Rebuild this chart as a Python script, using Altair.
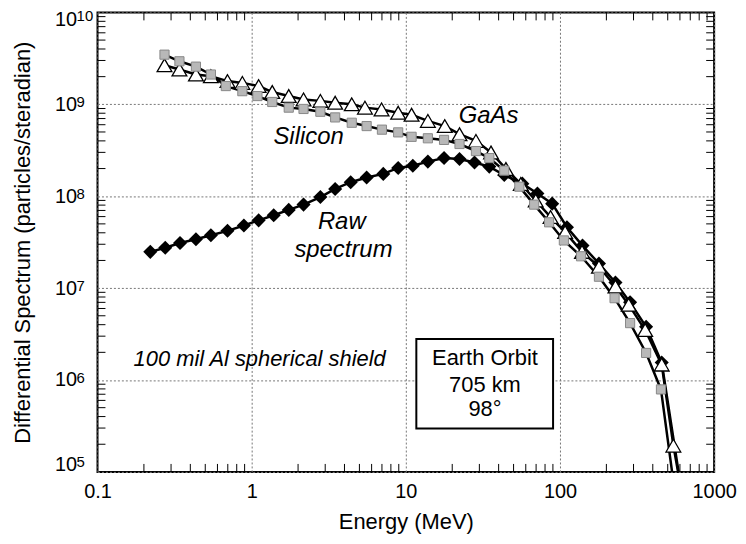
import altair as alt
import pandas as pd

# ---------------- data ----------------
energy_raw = [0.22, 0.275, 0.343, 0.435, 0.544, 0.697, 0.89, 1.11, 1.39, 1.74, 2.17, 2.79,
              3.48, 4.39, 5.57, 7.14, 8.92, 11.1, 13.9, 17.7, 22.3, 27.9, 34.8, 43.5, 57,
              71.4, 89, 111, 140, 179, 229, 285, 362, 457, 600]
flux_raw = [2.48e7, 2.75e7, 3.1e7, 3.4e7, 3.76e7, 4.2e7, 4.8e7, 5.46e7, 6.2e7, 7.1e7, 8.1e7, 9.8e7,
            1.2e8, 1.42e8, 1.6e8, 1.75e8, 2.03e8, 2.15e8, 2.38e8, 2.6e8, 2.54e8, 2.33e8, 2.1e8, 1.7e8, 1.37e8,
            1.07e8, 8.3e7, 4.6e7, 2.9e7, 1.85e7, 1.15e7, 7.0e6, 3.8e6, 1.55e6, 8e4]

energy_si = [0.272, 0.34, 0.435, 0.544, 0.68, 0.87, 1.09, 1.36, 1.74, 2.17, 2.79, 3.48, 4.46,
             5.57, 7.0, 8.92, 10.9, 13.9, 17.7, 22.3, 28.5, 34.8, 43.5, 54.5, 68, 85, 106, 137,
             179, 226, 285, 362, 452, 569]
flux_si = [3.47e9, 2.94e9, 2.57e9, 2.11e9, 1.58e9, 1.39e9, 1.23e9, 1.06e9, 9.2e8, 8.9e8, 8.3e8, 7.2e8, 6.3e8,
           5.8e8, 5.3e8, 4.95e8, 4.43e8, 4.27e8, 4.1e8, 3.7e8, 3.1e8, 2.6e8, 1.9e8, 1.27e8, 8.1e7, 5.2e7, 3.3e7, 2.22e7,
           1.33e7, 7.77e6, 4.16e6, 1.97e6, 7.9e5, 4.5e4]

energy_gaas = [0.272, 0.34, 0.435, 0.544, 0.697, 0.87, 1.11, 1.36, 1.74, 2.17, 2.79, 3.48, 4.46,
               5.43, 6.96, 8.92, 10.9, 13.9, 17.9, 22.3, 28.5, 35.7, 44.6, 55.7, 69.6, 86.9, 108,
               139, 179, 229, 279, 357, 457, 544, 606]
flux_gaas = [2.66e9, 2.39e9, 2.11e9, 2.02e9, 1.79e9, 1.71e9, 1.58e9, 1.36e9, 1.23e9, 1.13e9, 1.09e9, 1.04e9, 1.0e9,
             9.2e8, 8.8e8, 8.1e8, 7.7e8, 6.6e8, 5.8e8, 4.73e8, 4.0e8, 2.99e8, 1.98e8, 1.36e8, 8.98e7, 5.93e7, 4.07e7,
             2.48e7, 1.71e7, 1.04e7, 6.6e6, 3.5e6, 1.47e6, 1.93e5, 7e4]

x_major = [0.1, 1, 10, 100, 1000]
y_major = [1e5, 1e6, 1e7, 1e8, 1e9, 1e10]
y_exponents = ["5", "6", "7", "8", "9", "10"]
x_minor = [m * 10.0 ** d for d in range(-1, 3) for m in range(2, 10)]
y_minor = [m * 10.0 ** d for d in range(5, 10) for m in range(2, 10)]

curve_labels = ["Silicon", "GaAs", "Raw", "spectrum"]
curve_label_e = [2.34, 34.4, 3.84, 3.94]
curve_label_v = [4.35e8, 7.5e8, 5.2e7, 2.6e7]

shield_label = ["100 mil Al spherical shield"]
shield_label_e = [1.127]
shield_label_v = [1.71e6]

box_e = [11.7, 90.2]
box_v = [2.97e5, 2.79e6]
box_lines = ["Earth Orbit", "705 km", "98°"]
box_line_v = [1.74e6, 8.9e5, 4.8e5]
box_center_e = 32.6

# ---------------- chart ----------------
W, H = 620, 462
FONT = "Liberation Sans"
LBL_PAD = 21   # gap between "10" labels and the plot frame

x_scale = alt.Scale(type="log", domain=[0.1, 1000])
y_scale = alt.Scale(type="log", domain=[1e5, 1e10])

x_axis = alt.Axis(
    values=x_major,
    labelExpr="datum.value < 1 ? '0.1' : format(datum.value, 'd')",
    labelFlush=False, labelFontSize=20, labelPadding=10, labelColor="black",
    ticks=False, domain=False,
    grid=True, gridDash=[2, 2], gridColor="#777777", gridWidth=1,
    title="Energy (MeV)", titleFontSize=22, titleFontWeight="normal", titleColor="black",
    titleX=W / 2, titleY=50, titleBaseline="middle",
)
y_axis = alt.Axis(
    values=y_major,
    labelExpr="'10'",
    labelFlush=True, labelFlushOffset=3,
    labelFontSize=20, labelPadding=LBL_PAD, labelColor="black",
    ticks=False, domain=False,
    grid=True, gridDash=[2, 2], gridColor="#777777", gridWidth=1,
    title="Differential Spectrum (particles/steradian)", titleFontSize=22,
    titleFontWeight="normal", titleColor="black",
    titleX=-75, titleY=H / 2, titleBaseline="middle", titleAngle=-90,
)

raw_df = pd.DataFrame({"E": energy_raw, "V": flux_raw})
si_df = pd.DataFrame({"E": energy_si, "V": flux_si})
gaas_df = pd.DataFrame({"E": energy_gaas, "V": flux_gaas})
xm_df = pd.DataFrame({"E": x_minor})
ym_df = pd.DataFrame({"V": y_minor})
exp_df = pd.DataFrame({"V": y_major, "t": y_exponents})

X = alt.X("E:Q", scale=x_scale, axis=x_axis)
Y = alt.Y("V:Q", scale=y_scale, axis=y_axis)

tick_len = 8
ticks_bottom = alt.Chart(xm_df).mark_rule(color="black", strokeWidth=1).encode(
    x=X, y=alt.value(H), y2=alt.value(H - tick_len))
ticks_top = alt.Chart(xm_df).mark_rule(color="black", strokeWidth=1).encode(
    x=X, y=alt.value(0), y2=alt.value(tick_len))
ticks_left = alt.Chart(ym_df).mark_rule(color="black", strokeWidth=1).encode(
    y=Y, x=alt.value(0), x2=alt.value(tick_len))
ticks_right = alt.Chart(ym_df).mark_rule(color="black", strokeWidth=1).encode(
    y=Y, x=alt.value(W), x2=alt.value(W - tick_len))

# superscript exponents of the y tick labels
exp_base = alt.Chart(exp_df)
exp_mid = exp_base.transform_filter("datum.V > 2e5 && datum.V < 2e9").mark_text(
    font=FONT, fontSize=15, color="black", align="left", baseline="alphabetic", dy=3).encode(
    y=Y, x=alt.value(-LBL_PAD), text="t:N")
exp_top = exp_base.transform_filter("datum.V > 2e9").mark_text(
    font=FONT, fontSize=15, color="black", align="left", baseline="top", dy=-3).encode(
    y=Y, x=alt.value(-LBL_PAD), text="t:N")
exp_bot = exp_base.transform_filter("datum.V < 2e5").mark_text(
    font=FONT, fontSize=15, color="black", align="left", baseline="alphabetic", dy=-5).encode(
    y=Y, x=alt.value(-LBL_PAD), text="t:N")

box_df = pd.DataFrame({"E": [box_e[0]], "E2": [box_e[1]], "V": [box_v[0]], "V2": [box_v[1]]})
box = alt.Chart(box_df).mark_rect(fill="white", stroke="black", strokeWidth=2).encode(
    x=X, x2="E2:Q", y=Y, y2="V2:Q")
box_text = alt.Chart(pd.DataFrame({"E": [box_center_e] * 3, "V": box_line_v, "t": box_lines})).mark_text(
    font=FONT, fontSize=22, color="black", align="center", baseline="middle").encode(
    x=X, y=Y, text="t:N")

curve_text = alt.Chart(pd.DataFrame({"E": curve_label_e, "V": curve_label_v, "t": curve_labels})).mark_text(
    font=FONT, fontSize=24, fontStyle="italic", color="black", align="center", baseline="middle").encode(
    x=X, y=Y, text="t:N")
shield_text = alt.Chart(pd.DataFrame({"E": shield_label_e, "V": shield_label_v, "t": shield_label})).mark_text(
    font=FONT, fontSize=22, fontStyle="italic", color="black", align="center", baseline="middle").encode(
    x=X, y=Y, text="t:N")

raw_line = alt.Chart(raw_df).mark_line(color="black", strokeWidth=2.5, clip=True).encode(x=X, y=Y)
raw_pts = alt.Chart(raw_df).mark_point(shape="diamond", filled=True, color="black", size=200,
                                       opacity=1, clip=True).encode(x=X, y=Y)
si_line = alt.Chart(si_df).mark_line(color="black", strokeWidth=2.5, clip=True).encode(x=X, y=Y)
si_pts = alt.Chart(si_df).mark_point(shape="square", filled=True, fill="#b8b8b8", stroke="#888888",
                                     strokeWidth=1, size=85, opacity=1, clip=True).encode(x=X, y=Y)
gaas_line = alt.Chart(gaas_df).mark_line(color="black", strokeWidth=2.5, clip=True).encode(x=X, y=Y)
gaas_pts = alt.Chart(gaas_df).mark_point(shape="triangle-up", filled=True, fill="white", stroke="black",
                                         strokeWidth=1.3, size=220, opacity=1, clip=True).encode(x=X, y=Y)

chart = alt.layer(
    ticks_bottom, ticks_top, ticks_left, ticks_right,
    exp_mid, exp_top, exp_bot,
    box, box_text, shield_text, curve_text,
    raw_line, si_line, gaas_line, raw_pts, gaas_pts, si_pts,
).properties(
    width=W, height=H,
    autosize=alt.AutoSizeParams(type="none"),
    padding={"left": 90, "top": 3, "right": 24, "bottom": 62},
).configure(font=FONT).configure_view(stroke="black", strokeWidth=2)

chart.save("out.html", embed_options={"renderer": "svg", "actions": False})
